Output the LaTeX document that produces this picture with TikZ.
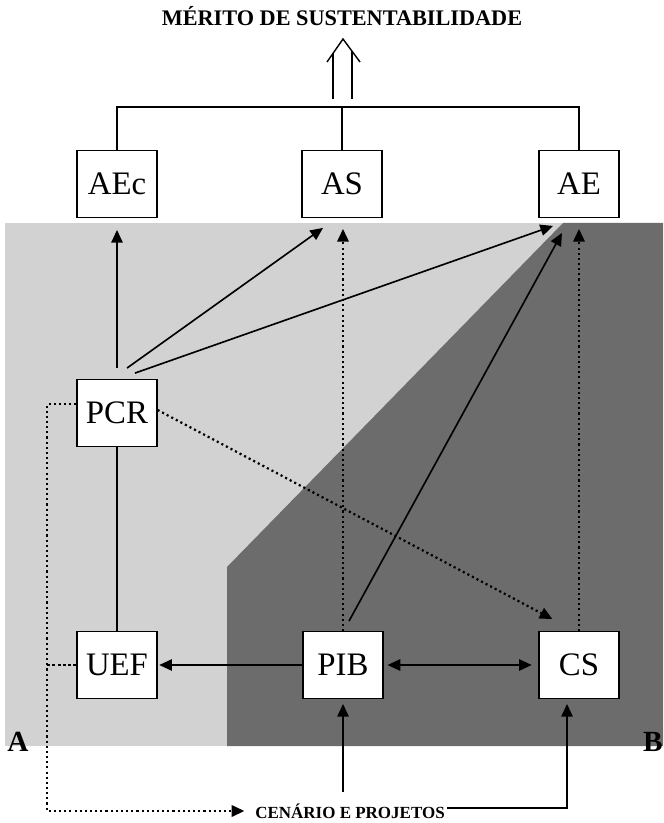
\documentclass[tikz,border=0pt]{standalone}
\usepackage{fontspec}
\setmainfont{Liberation Serif}
\usepackage{tikz}
\usetikzlibrary{arrows.meta,calc}
\definecolor{shadelight}{RGB}{210,210,210}
\definecolor{shadedark}{RGB}{108,108,108}
\newcommand{\blkfont}{\fontsize{28}{32}\selectfont}
\tikzset{
  blk/.style   ={rectangle, draw=black, fill=white, line width=1pt,
                 minimum width=2.4cm, minimum height=2cm, inner sep=0pt, font=\blkfont},
  link/.style  ={line width=1.2pt, draw=black},
  arr/.style   ={-{Triangle[length=3.8mm,width=3.4mm]}, line width=1.4pt, draw=black},
  dotarr/.style={-{Triangle[length=3.8mm,width=3.4mm]}, line width=1.9pt, draw=black,
                 dash pattern=on 1.8pt off 2.6pt},
  dsh/.style   ={line width=1.4pt, draw=black, dash pattern=on 2.5pt off 2pt},
  tag/.style   ={font=\bfseries\fontsize{25}{27}\selectfont, inner sep=0pt}
}
\begin{document}
\begin{tikzpicture}[x=0.03cm,y=-0.03cm]
\useasboundingbox (0,0) rectangle (663,823);

% Background regions (A = light, B = dark)
\fill[shadelight] (5,223) rectangle (663,746);
\fill[shadedark] (227,746) -- (227,567) -- (563,223) -- (663,223) -- (663,746) -- cycle;

% Title and bottom text
\node[font=\bfseries\fontsize{19}{21}\selectfont] (mer) at (342,16) {MÉRITO DE SUSTENTABILIDADE};
\node[font=\bfseries\fontsize{14.5}{16}\selectfont, inner sep=2pt] (cen) at (350,811) {CENÁRIO E PROJETOS};
\node[tag] (ta) at (18,742) {A};
\node[tag, anchor=east] (tb) at (663,742) {B};

% Boxes
\node[blk] (AEc) at (117,184) {AEc};
\node[blk] (AS)  at (342,184) {AS};
\node[blk] (AE)  at (579,184) {AE};
\node[blk] (PCR) at (117,413) {PCR};
\node[blk] (UEF) at (117,665) {UEF};
\node[blk] (PIB) at (343,665) {PIB};
\node[blk] (CS)  at (579,665) {CS};

% Top joint and hollow arrow to the title
\coordinate (bar) at (342,107);
\coordinate (loop) at (47,811);
\draw[link] (AEc.north) |- (bar) -| (AE.north);
\draw[link] (bar) -- (AS.north);
\draw[link] ($(bar)+(-9,-8)$) -- ($(bar)+(-9,-54)$);
\draw[link] ($(bar)+(10,-8)$) -- ($(bar)+(10,-56)$);
\draw[link] ($(bar)+(-15,-45)$) -- ($(bar)+(1,-68)$) -- ($(bar)+(18,-45)$);

% Arrows up from PCR
\draw[arr, shorten <=0.33cm, shorten >=0.36cm] (PCR.north) -- (AEc.south);
\draw[arr] ($(PCR.north)+(10,-11)$) -- ($(AS.south)+(-19,10)$);
\draw[arr] ($(PCR.north)+(18,-6)$) -- ($(AE.south)+(-26,8)$);
\draw[arr] ($(PIB.north)+(6,-10)$) -- ($(AE.south)+(-17,15)$);
\draw[dotarr, shorten >=0.33cm] (PIB.north) -- (PIB.north |- AS.south);
\draw[dotarr, shorten >=0.33cm] (CS.north) -- (CS.north |- AE.south);
\draw[dotarr] ($(PCR.east)+(0,-3)$) -- ($(CS.north west)+(14,-12)$);

% Lower row
\draw[link] (PCR.south) -- (UEF.north);
\draw[arr, shorten >=0.05cm] (PIB.west) -- (UEF.east);
\draw[arr, {Triangle[length=3.8mm,width=3.4mm]}-{Triangle[length=3.8mm,width=3.4mm]},
      shorten <=0.12cm, shorten >=0.2cm] (PIB.east) -- (CS.west);
\draw[dsh] (UEF.west) -- (UEF.west -| loop);
\draw[dotarr, shorten >=0.25cm] ($(PCR.west)+(0,-9)$) -| (loop) -- (cen.west);

% Scenario feeds PIB and CS
\draw[arr, shorten >=0.15cm] ($(cen.north -| PIB.south)+(0,-9)$) -- (PIB.south);
\draw[arr, shorten >=0.15cm] ($(cen.east)+(0,-3)$) -| ($(CS.south)+(-12,0)$);
\end{tikzpicture}
\end{document}
